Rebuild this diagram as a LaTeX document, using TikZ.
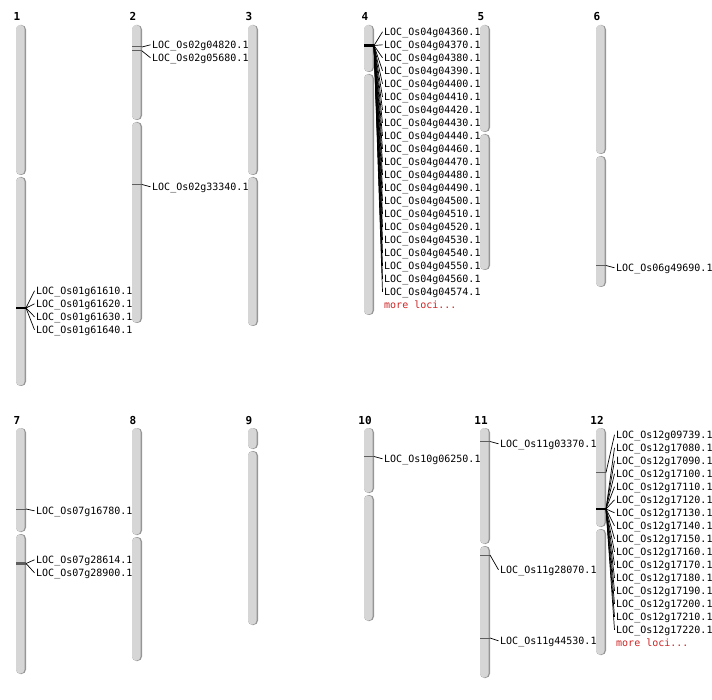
\documentclass[tikz,border=0pt]{standalone}
\usepackage{fontspec}
\setmonofont{DejaVu Sans Mono}
\definecolor{armgrey}{RGB}{214,214,214}
\definecolor{shadegrey}{RGB}{150,150,150}
\definecolor{markgrey}{RGB}{95,95,95}
\definecolor{morered}{RGB}{205,35,35}

\begin{document}
\begin{tikzpicture}[x=1pt,y=-1pt]
\tikzstyle{armshade}=[fill=shadegrey, rounded corners=4.5pt]
\tikzstyle{arm}=[fill=armgrey, rounded corners=4pt]
\tikzstyle{chrnum}=[anchor=base, inner sep=0pt, font=\ttfamily\bfseries\fontsize{11}{13}\selectfont]
\tikzstyle{locus}=[anchor=west, inner sep=1.5pt, yshift=-0.8pt, text height=7.3pt, text depth=0pt, font=\ttfamily\fontsize{10}{12}\selectfont]
\tikzstyle{more}=[locus, text=morered]
\tikzstyle{hit}=[markgrey, line width=1pt]
\tikzstyle{bighit}=[black, line width=2.5pt]
\tikzstyle{link}=[black, line width=0.7pt]

\useasboundingbox (0,0) rectangle (712,700);

% chromosomes: number / left x / top / centromere / bottom
\foreach \n/\x/\t/\c/\b in {1/16/25/176/386, 2/132/25/121/323, 3/248/25/176/326,
  4/364/25/73/315, 5/480/25/133/270, 6/596/25/155/287,
  7/16/428/533/674, 8/132/428/536/661, 9/248/428/450/625,
  10/364/428/494/621, 11/480/428/545/678, 12/596/428/528/655}{
  \fill[armshade] (\x,\t) rectangle (\x+10,\c-1);
  \fill[armshade] (\x,\c+1) rectangle (\x+10,\b);
  \fill[arm] (\x,\t) rectangle (\x+8.5,\c-1.5);
  \fill[arm] (\x,\c+1.5) rectangle (\x+8.5,\b-0.5);
  \node[chrnum] (n\n) at (\x+1,\t-4) {\n};
}

% chromosome 1
\coordinate (m1) at (26,308);
\draw[bighit] (16,308) -- (m1);
\foreach \g [count=\i from 0] in {61610,61620,61630,61640}{
  \node[locus] (l1-\i) at (34.5,290+13*\i) {LOC\_Os01g\g.1};
  \draw[link] (m1) -- (l1-\i.west);
}

% chromosome 2
\coordinate (m2a) at (142,47);
\coordinate (m2b) at (142,51);
\coordinate (m2c) at (142,184.5);
\draw[hit] (132,47) -- (m2a);
\draw[hit] (132,51) -- (m2b);
\draw[hit] (132,184.5) -- (m2c);
\node[locus] (l2a) at (150.5,44) {LOC\_Os02g04820.1};
\node[locus] (l2b) at (150.5,57) {LOC\_Os02g05680.1};
\node[locus] (l2c) at (150.5,186) {LOC\_Os02g33340.1};
\path (m2a) edge[link] (l2a.west)
      (m2b) edge[link] (l2b.west)
      (m2c) edge[link] (l2c.west);

% chromosome 4
\coordinate (m4) at (374,45.5);
\draw[bighit] (364,45.5) -- (m4);
\foreach \g [count=\i from 0] in {04360,04370,04380,04390,04400,04410,04420,
  04430,04440,04460,04470,04480,04490,04500,04510,04520,04530,04540,04550,
  04560,04574}{
  \node[locus] (l4-\i) at (382.5,31+13*\i) {LOC\_Os04g\g.1};
  \draw[link] (m4) -- (l4-\i.west);
}
\node[more] (more4) at (382.5,304) {more loci...};

% chromosome 6
\coordinate (m6) at (606,265.5);
\draw[hit] (596,265.5) -- (m6);
\node[locus] (l6) at (614.5,267) {LOC\_Os06g49690.1};
\path (m6) edge[link] (l6.west);

% chromosome 7
\coordinate (m7a) at (26,509);
\coordinate (m7b) at (26,563.5);
\draw[hit] (16,509) -- (m7a);
\draw[markgrey, line width=3.5pt] (16,563.5) -- (m7b);
\node[locus] (l7a) at (34.5,510) {LOC\_Os07g16780.1};
\node[locus] (l7b) at (34.5,559) {LOC\_Os07g28614.1};
\node[locus] (l7c) at (34.5,572) {LOC\_Os07g28900.1};
\path (m7a) edge[link] (l7a.west)
      (m7b) edge[link] (l7b.west)
            edge[link] (l7c.west);

% chromosome 10
\coordinate (m10) at (374,456.5);
\draw[hit] (364,456.5) -- (m10);
\node[locus] (l10) at (382.5,458) {LOC\_Os10g06250.1};
\path (m10) edge[link] (l10.west);

% chromosome 11
\coordinate (m11a) at (490,441.5);
\coordinate (m11b) at (490,555);
\coordinate (m11c) at (490,638);
\draw[hit] (480,441.5) -- (m11a);
\draw[hit] (480,555) -- (m11b);
\draw[hit] (480,638) -- (m11c);
\node[locus] (l11a) at (498.5,443) {LOC\_Os11g03370.1};
\node[locus] (l11b) at (498.5,569) {LOC\_Os11g28070.1};
\node[locus] (l11c) at (498.5,640) {LOC\_Os11g44530.1};
\path (m11a) edge[link] (l11a.west)
      (m11b) edge[link] (l11b.west)
      (m11c) edge[link] (l11c.west);

% chromosome 12
\coordinate (m12a) at (606,472.5);
\coordinate (m12b) at (606,509);
\draw[hit] (596,472.5) -- (m12a);
\draw[bighit] (596,509) -- (m12b);
\node[locus] (l12-0) at (614.5,434) {LOC\_Os12g09739.1};
\draw[link] (m12a) -- (l12-0.west);
\foreach \g [count=\i from 1] in {17080,17090,17100,17110,17120,17130,17140,
  17150,17160,17170,17180,17190,17200,17210,17220}{
  \node[locus] (l12-\i) at (614.5,434+13*\i) {LOC\_Os12g\g.1};
  \draw[link] (m12b) -- (l12-\i.west);
}
\node[more] (more12) at (614.5,642) {more loci...};

\end{tikzpicture}
\end{document}
